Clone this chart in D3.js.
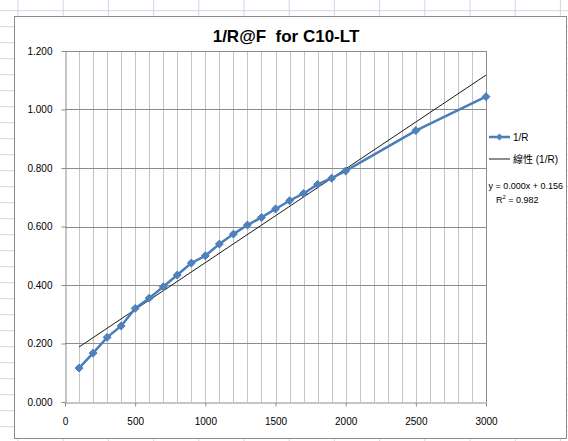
<!DOCTYPE html>
<html>
<head>
<meta charset="utf-8"/>
<title>1/R@F for C10-LT</title>
<script src="https://d3js.org/d3.v7.min.js"></script>
<style>
    body { margin: 0; background: #fff; }
    text { font-family: "Liberation Sans", Arial, sans-serif; fill: #000; }
    .title { font-size: 17px; font-weight: bold; }
    .tick text { font-size: 10px; }
    .legend text { font-size: 10px; font-family: "Liberation Sans", "Noto Sans CJK TC", sans-serif; }
    .legend text.eq { font-size: 9px; }
</style>
</head>
<body>
<svg id="chart" width="568" height="441"></svg>
<script>
    // values
    var freq = [100, 200, 300, 400, 500, 600, 700, 800, 900, 1000,
                1100, 1200, 1300, 1400, 1500, 1600, 1700, 1800, 1900, 2000,
                2500, 3000];
    var invR = [0.116, 0.167, 0.221, 0.260, 0.320, 0.355, 0.394, 0.434, 0.475, 0.500,
                0.540, 0.574, 0.605, 0.631, 0.660, 0.688, 0.713, 0.744, 0.765, 0.790,
                0.928, 1.044];
    var xTicks = [0, 500, 1000, 1500, 2000, 2500, 3000];
    var yTicks = [0, 0.2, 0.4, 0.6, 0.8, 1.0, 1.2];

    var data = freq.map(function(f, i) { return {x: f, y: invR[i]}; });

    var svg = d3.select("#chart");

    // spreadsheet cells behind the chart
    var sheet = svg.append("g");
    d3.range(10.7, 441, 16).forEach(function(y) {
        sheet.append("line").attr("x1", 0).attr("x2", 568).attr("y1", y).attr("y2", y)
            .attr("stroke", "#d0d7e5");
    });
    d3.range(18, 568, 45.2).forEach(function(x) {
        sheet.append("line").attr("x1", x).attr("x2", x).attr("y1", 0).attr("y2", 441)
            .attr("stroke", "#d0d7e5");
    });

    // chart area
    svg.append("rect")
        .attr("x", 14.5).attr("y", 16.5).attr("width", 552).attr("height", 422)
        .attr("fill", "#fff").attr("stroke", "#8c8c8c");

    var x = d3.scaleLinear().domain([0, 3000]).range([65, 486]);
    var y = d3.scaleLinear().domain([0, 1.2]).range([402, 51]);

    // minor vertical gridlines every 100
    svg.append("g").selectAll("line")
        .data(d3.range(100, 3000, 100))
        .enter().append("line")
        .attr("x1", function(d) { return Math.round(x(d)) + 0.5; })
        .attr("x2", function(d) { return Math.round(x(d)) + 0.5; })
        .attr("y1", y(1.2)).attr("y2", y(0))
        .attr("stroke", "#c4c4c4");

    // major horizontal gridlines
    svg.append("g").selectAll("line")
        .data(yTicks.slice(1))
        .enter().append("line")
        .attr("x1", x(0)).attr("x2", x(3000))
        .attr("y1", function(d) { return Math.round(y(d)) + 0.5; })
        .attr("y2", function(d) { return Math.round(y(d)) + 0.5; })
        .attr("stroke", "#8c8c8c");

    // right border of plot area
    svg.append("line")
        .attr("x1", x(3000) + 0.5).attr("x2", x(3000) + 0.5)
        .attr("y1", y(1.2)).attr("y2", y(0))
        .attr("stroke", "#8c8c8c");

    var xAxis = svg.append("g")
        .attr("transform", "translate(0," + (Math.round(y(0)) + 0.5) + ")")
        .call(d3.axisBottom(x).tickValues(xTicks).tickFormat(d3.format("d"))
            .tickSize(4).tickSizeOuter(0).tickPadding(11));
    var yAxis = svg.append("g")
        .attr("transform", "translate(" + (Math.round(x(0)) + 0.5) + ",0)")
        .call(d3.axisLeft(y).tickValues(yTicks).tickFormat(d3.format(".3f"))
            .tickSize(4).tickSizeOuter(0).tickPadding(9));
    [xAxis, yAxis].forEach(function(a) {
        a.select(".domain").attr("stroke", "#8c8c8c");
        a.selectAll(".tick line").attr("stroke", "#8c8c8c");
        a.selectAll(".tick text").attr("fill", "#000");
    });

    // least squares trendline
    var mx = d3.mean(freq), my = d3.mean(invR);
    var sxy = d3.sum(data, function(d) { return (d.x - mx) * (d.y - my); });
    var sxx = d3.sum(data, function(d) { return (d.x - mx) * (d.x - mx); });
    var slope = sxy / sxx, icpt = my - slope * mx;
    var ssTot = d3.sum(data, function(d) { return (d.y - my) * (d.y - my); });
    var ssRes = d3.sum(data, function(d) { return Math.pow(d.y - (slope * d.x + icpt), 2); });
    var r2 = 1 - ssRes / ssTot;

    var x0 = d3.min(freq), x1 = d3.max(freq);
    svg.append("line")
        .attr("x1", x(x0)).attr("y1", y(slope * x0 + icpt))
        .attr("x2", x(x1)).attr("y2", y(slope * x1 + icpt))
        .attr("stroke", "#1a1a1a").attr("stroke-width", 1);

    var line = d3.line().x(function(d) { return x(d.x); }).y(function(d) { return y(d.y); });
    svg.append("path").datum(data)
        .attr("d", line)
        .attr("fill", "none").attr("stroke", "#4a7ebb").attr("stroke-width", 2.5);

    var diamond = d3.symbol().type(d3.symbolDiamond2).size(40);
    svg.append("g").selectAll("path")
        .data(data)
        .enter().append("path")
        .attr("d", diamond)
        .attr("transform", function(d) { return "translate(" + x(d.x) + "," + y(d.y) + ")"; })
        .attr("fill", "#4f81bd").attr("stroke", "#4a7ebb");

    // title
    svg.append("text").attr("class", "title")
        .attr("x", 286).attr("y", 42).attr("text-anchor", "middle")
        .attr("xml:space", "preserve")
        .text("1/R@F  for C10-LT");

    // legend
    var lg = svg.append("g").attr("class", "legend");
    lg.append("line").attr("x1", 489).attr("x2", 510).attr("y1", 137).attr("y2", 137)
        .attr("stroke", "#4a7ebb").attr("stroke-width", 2.5);
    lg.append("path").attr("d", d3.symbol().type(d3.symbolDiamond2).size(30))
        .attr("transform", "translate(499.5,137)").attr("fill", "#4f81bd");
    lg.append("text").attr("x", 513).attr("y", 140.5).text("1/R");
    lg.append("line").attr("x1", 489).attr("x2", 510).attr("y1", 159).attr("y2", 159)
        .attr("stroke", "#1a1a1a");
    lg.append("text").attr("x", 513).attr("y", 162.5).text("線性 (1/R)");

    // equation label
    var eq = svg.append("g").attr("class", "legend");
    eq.append("text").attr("class", "eq").attr("x", 563).attr("y", 189)
        .attr("text-anchor", "end")
        .text("y = " + d3.format(".3f")(slope) + "x + " + d3.format(".3f")(icpt));
    var r = eq.append("text").attr("class", "eq").attr("x", 496).attr("y", 203);
    r.append("tspan").text("R");
    r.append("tspan").attr("dy", -4).attr("font-size", "6px").text("2");
    r.append("tspan").attr("dy", 4).text(" = " + d3.format(".3f")(r2));
</script>
</body>
</html>
